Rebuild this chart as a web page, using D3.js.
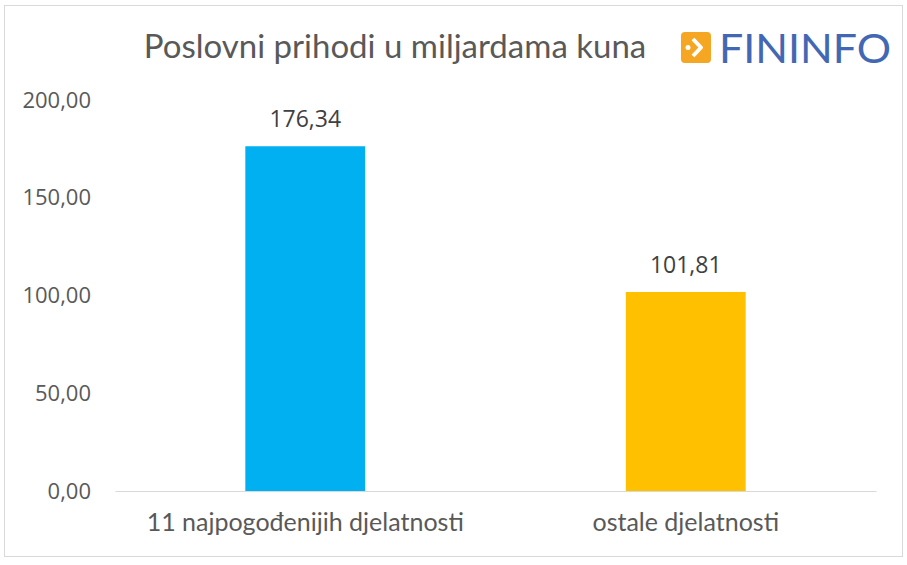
<!DOCTYPE html>
<html>
<head>
<meta charset="utf-8">
<script src="https://cdn.jsdelivr.net/npm/d3@7"></script>
<style>
  body { margin: 0; background: #fff; }
  text { font-family: "Open Sans", sans-serif; }
</style>
</head>
<body>
<div id="chart"></div>
<script>
// podaci
const categories = ["11 najpogođenijih djelatnosti", "ostale djelatnosti"]
const values = [176.34, 101.81]
const colors = ["#00b0f0", "#ffc000"]
const yTicks = [0, 50, 100, 150, 200]
const title = "Poslovni prihodi u miljardama kuna"

const fmt = v => d3.format(".2f")(v).replace(".", ",")

var W = 907, H = 565
var margin = {top: 100, right: 31, bottom: 74, left: 115},
    width = W - margin.left - margin.right,
    height = H - margin.top - margin.bottom

var svg0 = d3.select("#chart").append("svg")
  .attr("width", W)
  .attr("height", H)

// okvir
svg0.append("rect")
  .attr("x", 4.5).attr("y", 5.5)
  .attr("width", 898).attr("height", 551)
  .attr("fill", "#fff")
  .attr("stroke", "#d9d9d9")

svg0.append("text")
  .attr("x", 395)
  .attr("y", 58)
  .attr("text-anchor", "middle")
  .style("font-family", "Lato, sans-serif")
  .style("font-size", "33px")
  .attr("fill", "#595959")
  .text(title)

// logo
var logo = svg0.append("g").attr("transform", "translate(681,32)")
logo.append("rect")
  .attr("width", 30).attr("height", 31)
  .attr("rx", 4)
  .attr("fill", "#f5a623")
logo.append("path")
  .attr("d", "M12,7 L20,15.5 L12,24")
  .attr("fill", "none")
  .attr("stroke", "#fff")
  .attr("stroke-width", 4)
  .attr("stroke-linejoin", "round")
logo.append("circle")
  .attr("cx", 7).attr("cy", 15.5).attr("r", 2.5)
  .attr("fill", "#fff")
logo.append("text")
  .attr("x", 38).attr("y", 31)
  .attr("textLength", 172)
  .attr("lengthAdjust", "spacingAndGlyphs")
  .style("font-family", "Lato, sans-serif")
  .style("font-size", "41px")
  .attr("fill", "#4268b4")
  .text("FININFO")

var svg = svg0.append("g")
  .attr("transform", "translate(" + margin.left + "," + margin.top + ")")

var x = d3.scaleBand()
  .domain(categories)
  .range([0, width])
  .padding(0)

var y = d3.scaleLinear()
  .domain([0, 200])
  .range([height, 0])

var barW = x.bandwidth() * 0.315

var yAxis = d3.axisLeft(y)
  .tickValues(yTicks)
  .tickFormat(fmt)
  .tickSize(0)
  .tickPadding(24)

var gy = svg.append("g").attr("class", "y axis").call(yAxis)
gy.select(".domain").remove()
gy.selectAll("text")
  .style("font-size", "22px")
  .attr("fill", "#595959")

svg.selectAll(".bar")
  .data(values)
  .enter().append("rect")
  .attr("class", "bar")
  .attr("x", (d, i) => x(categories[i]) + x.bandwidth() / 2 - barW / 2)
  .attr("width", barW)
  .attr("y", d => y(d))
  .attr("height", d => height - y(d))
  .attr("fill", (d, i) => colors[i])

svg.selectAll(".lbl")
  .data(values)
  .enter().append("text")
  .attr("class", "lbl")
  .attr("x", (d, i) => x(categories[i]) + x.bandwidth() / 2)
  .attr("y", d => y(d) - 19)
  .attr("text-anchor", "middle")
  .style("font-size", "23px")
  .attr("fill", "#404040")
  .text(fmt)

var xAxis = d3.axisBottom(x).tickSize(0).tickPadding(22)
var gx = svg.append("g")
  .attr("class", "x axis")
  .attr("transform", "translate(0," + height + ")")
  .call(xAxis)
gx.select(".domain").attr("stroke", "#d9d9d9")
gx.selectAll("text")
  .style("font-family", "Lato, sans-serif")
  .style("font-size", "25px")
  .attr("fill", "#595959")
</script>
</body>
</html>
